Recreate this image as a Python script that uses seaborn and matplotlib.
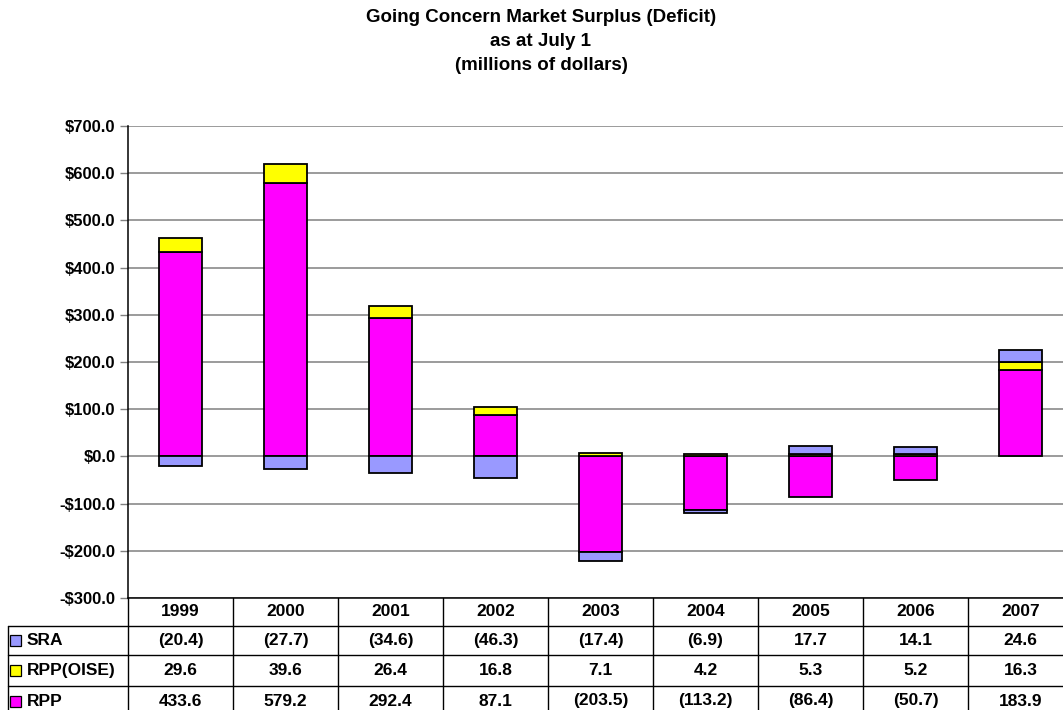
import matplotlib
matplotlib.use("Agg")
import matplotlib.pyplot as plt
import matplotlib.transforms as mtransforms
from matplotlib.patches import Rectangle
import numpy as np
import pandas as pd
import seaborn as sns

# Going concern market surplus (deficit), millions of dollars
years = ["1999", "2000", "2001", "2002", "2003", "2004", "2005", "2006", "2007"]
sra = [-20.4, -27.7, -34.6, -46.3, -17.4, -6.9, 17.7, 14.1, 24.6]
rpp_oise = [29.6, 39.6, 26.4, 16.8, 7.1, 4.2, 5.3, 5.2, 16.3]
rpp = [433.6, 579.2, 292.4, 87.1, -203.5, -113.2, -86.4, -50.7, 183.9]

series_names = ["SRA", "RPP(OISE)", "RPP"]
series_values = [sra, rpp_oise, rpp]
colors = {"SRA": "#9999FF", "RPP(OISE)": "#FFFF00", "RPP": "#FF00FF"}

sns.set_theme(style="white")
plt.rcParams["font.family"] = ["Liberation Sans", "DejaVu Sans"]
plt.rcParams["text.color"] = "black"
plt.rcParams["ytick.color"] = "black"
plt.rcParams["ytick.labelcolor"] = "black"

W, H = 1063, 710
fig = plt.figure(figsize=(W / 100, H / 100), dpi=100)


def fx(px):
    return px / W


def fy(py):
    return 1 - py / H


ax_left, ax_right, ax_top, ax_bottom = 128, 1073, 126, 598
ax = fig.add_axes([fx(ax_left), fy(ax_bottom), fx(ax_right - ax_left),
                   (ax_bottom - ax_top) / H])

# Stack positives upward and negatives downward, RPP first, then OISE, then SRA
pos_cum = np.zeros(len(years))
neg_cum = np.zeros(len(years))
stack_order = ["RPP", "RPP(OISE)", "SRA"]
lookup = dict(zip(series_names, series_values))
for name in stack_order:
    vals = np.array(lookup[name])
    bottoms = np.where(vals >= 0, pos_cum, neg_cum)
    df = pd.DataFrame({"year": years, "value": vals})
    sns.barplot(data=df, x="year", y="value", order=years, ax=ax,
                color=colors[name], saturation=1, width=0.41,
                bottom=bottoms, edgecolor="black", linewidth=1.3,
                errorbar=None)
    pos_cum = pos_cum + np.where(vals >= 0, vals, 0)
    neg_cum = neg_cum + np.where(vals < 0, vals, 0)

ax.set_xlim(-0.5, len(years) - 0.5)
ax.set_ylim(-300, 700)
yt = np.arange(-300, 701, 100)
ax.set_yticks(yt)


def money(v):
    return ("-$%.1f" % abs(v)) if v < 0 else ("$%.1f" % v)


ax.set_yticklabels([money(v) for v in yt], fontsize=12, fontweight="bold",
                   color="black")
ax.set_xticks([])
ax.set_xlabel("")
ax.set_ylabel("")
ax.grid(False)
for v in yt:
    ax.axhline(v, color="#808080", lw=1.1, zorder=0)
for s in ["top", "right"]:
    ax.spines[s].set_visible(False)
ax.spines["left"].set_color("black")
ax.spines["left"].set_linewidth(1.1)
ax.spines["bottom"].set_color("black")
ax.spines["bottom"].set_linewidth(1.1)
ax.tick_params(axis="y", which="both", left=True, length=6, width=1,
               color="#808080", pad=3)

title_kw = dict(ha="center", va="center", fontsize=13.5, fontweight="bold",
                color="black")
tx = fx(541)
fig.text(tx, fy(17), "Going Concern Market Surplus (Deficit)", **title_kw)
fig.text(tx, fy(42), "as at July 1", **title_kw)
fig.text(tx, fy(66), "(millions of dollars)", **title_kw)

# Data table under the plot
tr = mtransforms.blended_transform_factory(ax.transData, fig.transFigure)
row_edges = [598, 626, 655, 686, 716]
n = len(years)
line_kw = dict(color="black", lw=1.0, clip_on=False)
for i in range(n + 1):
    ax.add_line(plt.Line2D([i - 0.5, i - 0.5], [fy(598), fy(716)],
                           transform=tr, **line_kw))
for r in row_edges[1:4]:
    fig.add_artist(plt.Line2D([fx(8), fx(ax_left)], [fy(r), fy(r)], **line_kw))
    ax.add_line(plt.Line2D([-0.5, n - 0.5], [fy(r), fy(r)], transform=tr,
                           **line_kw))
fig.add_artist(plt.Line2D([fx(8), fx(8)], [fy(626), fy(716)], **line_kw))

cell_kw = dict(ha="center", va="center", fontsize=12.5, fontweight="bold",
               color="black")
for i, y in enumerate(years):
    ax.text(i, fy((598 + 626) / 2), y, transform=tr, **cell_kw)


def fmt(v):
    return "(%.1f)" % abs(v) if v < 0 else "%.1f" % v


for k, name in enumerate(series_names):
    yc = fy((row_edges[k + 1] + row_edges[k + 2]) / 2)
    fig.add_artist(Rectangle((fx(10), yc - 5.5 / H), 11 / W, 11 / H,
                             facecolor=colors[name], edgecolor="black",
                             lw=0.9, transform=fig.transFigure))
    fig.text(fx(27), yc, name, ha="left", va="center", fontsize=12.5,
             fontweight="bold", color="black")
    for i, v in enumerate(series_values[k]):
        ax.text(i, yc, fmt(v), transform=tr, **cell_kw)

fig.savefig("out.png", dpi=100)
